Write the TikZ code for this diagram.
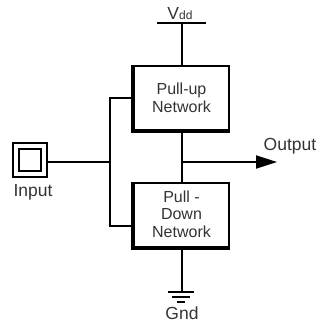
\documentclass[tikz,border=0pt]{standalone}
\usepackage{fontspec}
\setmainfont{Liberation Sans}
\usetikzlibrary{arrows.meta}
\definecolor{txt}{HTML}{333333}
\begin{document}
\begin{tikzpicture}[x=1pt,y=-1pt,
  wire/.style={line width=2pt,black},
  boxtext/.style={text=txt,font=\fontsize{16}{18}\selectfont,align=center,inner sep=0pt},
  lbl/.style={text=txt,font=\fontsize{17.5}{20}\selectfont,inner sep=0pt}]
\useasboundingbox (0,0) rectangle (320,322);
% boxes
\node[draw,line width=2pt,minimum width=95pt,minimum height=64pt,inner sep=0pt] (pu) at (181.5,98) {};
\node[boxtext] (putext) at (181.5,98) {Pull-up\\Network};
\node[draw,line width=2pt,minimum width=95pt,minimum height=64pt,inner sep=0pt] (pd) at (181.5,215) {};
\node[boxtext,font=\fontsize{16}{17.5}\selectfont] (pdtext) at (181.5,214) {Pull -\\Down\\Network};
% thick left/bottom edges
\draw[line width=3.5pt] (pu.north west) -- (pu.south west) -- (pu.south east);
\draw[line width=3.5pt] (pd.north west) -- (pd.south west) -- (pd.south east);
% Vdd
\coordinate (vddl) at (157,23);
\coordinate (vddr) at (206,23);
\coordinate (vddm) at (182,23);
\draw[wire] (vddl) -- (vddr);
\node[lbl,anchor=base] (vdd) at (180,19) {V{\fontsize{12}{14}\selectfont dd}};
\draw[wire] (vddm) -- (pu.north -| vddm);
% between boxes
\draw[wire] (pu.south -| vddm) -- (pd.north -| vddm);
% output
\coordinate (oj) at (182,162);
\coordinate (oe) at (277,162);
\draw[wire,-{Triangle[length=21pt,width=13pt]}] (oj) -- (oe);
\node[lbl] (out) at (290,146) {Output};
% input symbol
\node[draw,line width=2pt,minimum size=34pt,inner sep=0pt] (inp) at (30,160) {};
\node[draw,line width=2pt,minimum size=22pt,inner sep=0pt] (inpin) at (30,160) {};
\node[lbl] (inl) at (33,192) {Input};
\coordinate (bj) at (110,162);
\coordinate (bt) at (110,98);
\coordinate (bb) at (110,226);
\draw[wire] (inp.east |- bj) -- (bj);
\draw[wire] (pu.west |- bt) -- (bt) -- (bb) -- (pd.west |- bb);
% ground
\coordinate (g1) at (182,292);
\draw[wire] (pd.south -| g1) -- (g1);
\draw[wire] (168,292) -- (194,292);
\draw[wire] (172,297) -- (190,297);
\draw[wire] (177,301.5) -- (185,301.5);
\node[lbl] (gnd) at (182,313) {Gnd};
\end{tikzpicture}
\end{document}
